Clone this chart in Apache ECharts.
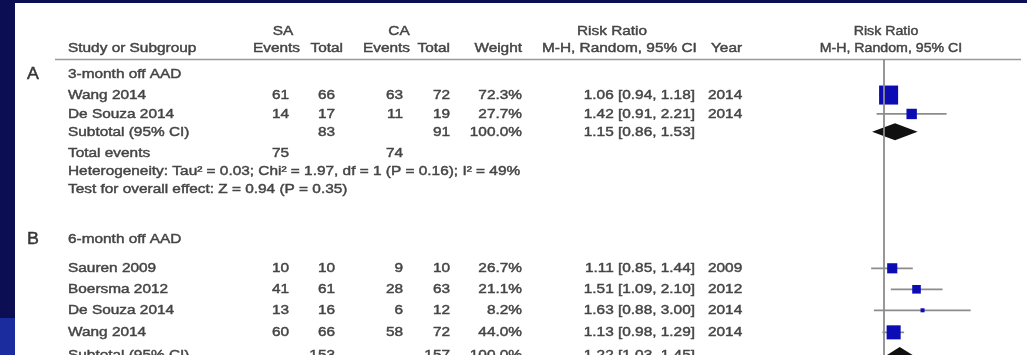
<!DOCTYPE html>
<html>
<head>
<meta charset="utf-8">
<title>Risk Ratio forest plot</title>
<script src="https://cdn.jsdelivr.net/npm/echarts@6/dist/echarts.min.js"></script>
<style>
  html, body { margin: 0; padding: 0; background: #ffffff; }
  #chart { width: 1027px; height: 355px; }
</style>
</head>
<body>
<div id="chart"></div>
<script>
// ---------------- data ----------------
const groupLetters = ['A', 'B'];
const groupTitles = ['3-month off AAD', '6-month off AAD'];

// Subgroup A: 3-month off AAD
const studiesA = ['Wang 2014', 'De Souza 2014'];
const saEventsA = [61, 14];
const saTotalA = [66, 17];
const caEventsA = [63, 11];
const caTotalA = [72, 19];
const weightA = [72.3, 27.7];
const rrA = [1.06, 1.42];
const lowerA = [0.94, 0.91];
const upperA = [1.18, 2.21];
const yearA = [2014, 2014];
const subtotalTotalsA = [83, 91];          // SA total, CA total
const subtotalEffectA = [1.15, 0.86, 1.53]; // RR, lower, upper
const totalEventsA = [75, 74];
const heterogeneityA = 'Heterogeneity: Tau\u00b2 = 0.03; Chi\u00b2 = 1.97, df = 1 (P = 0.16); I\u00b2 = 49%';
const overallA = 'Test for overall effect: Z = 0.94 (P = 0.35)';

// Subgroup B: 6-month off AAD
const studiesB = ['Sauren 2009', 'Boersma 2012', 'De Souza 2014', 'Wang 2014'];
const saEventsB = [10, 41, 13, 60];
const saTotalB = [10, 61, 16, 66];
const caEventsB = [9, 28, 6, 58];
const caTotalB = [10, 63, 12, 72];
const weightB = [26.7, 21.1, 8.2, 44.0];
const rrB = [1.11, 1.51, 1.63, 1.13];
const lowerB = [0.85, 1.09, 0.88, 0.98];
const upperB = [1.44, 2.10, 3.00, 1.29];
const yearB = [2009, 2012, 2014, 2014];
const subtotalTotalsB = [153, 157];
const subtotalEffectB = [1.22, 1.03, 1.45];

// ---------------- layout ----------------
const W = 1027, H = 355;
const ROW_TOP = 31, ROW_PITCH = 21;          // pixel centre of row 0 and line pitch
const Y_MIN = -ROW_TOP / ROW_PITCH;
const Y_MAX = (H - ROW_TOP) / ROW_PITCH;

const ROW = {
  head1: 0, head2: 0.8, rule: 1.36,
  A: { title: 2.05, studies: [3.05, 3.95], subtotal: 4.8, totalEvents: 5.8, het: 6.68, test: 7.55 },
  B: { title: 9.9, studies: [11.3, 12.3, 13.3, 14.35], subtotal: 15.45 }
};

const COL = {
  letter: 27, study: 68,
  saEv: 289, saTot: 335, caEv: 403, caTot: 450, weight: 522, rr: 695, year: 708,
  hSA: 283, hCA: 399, hSaEv: 300, hSaTot: 343, hCaEv: 410, hCaTot: 450,
  hRR: 612, hMH: 542, hYear: 711, hPlotRR: 886, hPlotMH: 891,
  ruleL: 55, ruleR: 1021
};

const FONT = '"Liberation Sans", Arial, Helvetica, sans-serif';
const TEXT_COLOR = '#444444';
const GREY_LINE = '#8c8c8c';
const SQUARE_BLUE = '#0c0cb4';

// ---------------- table text ----------------
const textItems = [];
function addText(x, row, text, align, opt) {
  opt = opt || {};
  textItems.push({
    x: x, row: row, text: String(text), align: align,
    size: opt.size || 13.5, sx: opt.sx || 1.14,
    color: opt.color || TEXT_COLOR
  });
}
const fmtRR = (r, l, u) => r.toFixed(2) + ' [' + l.toFixed(2) + ', ' + u.toFixed(2) + ']';

// headers
addText(COL.hSA, ROW.head1, 'SA', 'center');
addText(COL.hCA, ROW.head1, 'CA', 'center');
addText(COL.hRR, ROW.head1, 'Risk Ratio', 'center');
addText(COL.hPlotRR, ROW.head1, 'Risk Ratio', 'center', { sx: 1.05 });
addText(COL.study, ROW.head2, 'Study or Subgroup', 'left');
addText(COL.hSaEv, ROW.head2, 'Events', 'right');
addText(COL.hSaTot, ROW.head2, 'Total', 'right');
addText(COL.hCaEv, ROW.head2, 'Events', 'right');
addText(COL.hCaTot, ROW.head2, 'Total', 'right');
addText(COL.weight, ROW.head2, 'Weight', 'right');
addText(COL.hMH, ROW.head2, 'M-H, Random, 95% CI', 'left');
addText(COL.hYear, ROW.head2, 'Year', 'left');
addText(COL.hPlotMH, ROW.head2, 'M-H, Random, 95% CI', 'center', { sx: 1.05 });

const groups = [
  { rows: ROW.A, studies: studiesA, saEv: saEventsA, saTot: saTotalA, caEv: caEventsA, caTot: caTotalA,
    weight: weightA, rr: rrA, lo: lowerA, hi: upperA, year: yearA,
    subTot: subtotalTotalsA, subEff: subtotalEffectA, totalEvents: totalEventsA,
    het: heterogeneityA, test: overallA },
  { rows: ROW.B, studies: studiesB, saEv: saEventsB, saTot: saTotalB, caEv: caEventsB, caTot: caTotalB,
    weight: weightB, rr: rrB, lo: lowerB, hi: upperB, year: yearB,
    subTot: subtotalTotalsB, subEff: subtotalEffectB }
];

const marks = [];
groups.forEach((g, gi) => {
  const r = g.rows;
  addText(COL.letter, r.title, groupLetters[gi], 'left', { size: 17, sx: 1.05, color: '#363636' });
  addText(COL.study, r.title, groupTitles[gi], 'left');
  g.studies.forEach((name, i) => {
    const row = r.studies[i];
    addText(COL.study, row, name, 'left');
    addText(COL.saEv, row, g.saEv[i], 'right');
    addText(COL.saTot, row, g.saTot[i], 'right');
    addText(COL.caEv, row, g.caEv[i], 'right');
    addText(COL.caTot, row, g.caTot[i], 'right');
    addText(COL.weight, row, g.weight[i].toFixed(1) + '%', 'right');
    addText(COL.rr, row, fmtRR(g.rr[i], g.lo[i], g.hi[i]), 'right');
    addText(COL.year, row, g.year[i], 'left');
    marks.push({ kind: 'study', row: row, rr: g.rr[i], lo: g.lo[i], hi: g.hi[i], w: g.weight[i] });
  });
  addText(COL.study, r.subtotal, 'Subtotal (95% CI)', 'left');
  addText(COL.saTot, r.subtotal, g.subTot[0], 'right');
  addText(COL.caTot, r.subtotal, g.subTot[1], 'right');
  addText(COL.weight, r.subtotal, '100.0%', 'right');
  addText(COL.rr, r.subtotal, fmtRR(g.subEff[0], g.subEff[1], g.subEff[2]), 'right');
  marks.push({ kind: 'diamond', row: r.subtotal, rr: g.subEff[0], lo: g.subEff[1], hi: g.subEff[2] });
  if (g.totalEvents) {
    addText(COL.study, r.totalEvents, 'Total events', 'left');
    addText(COL.saEv, r.totalEvents, g.totalEvents[0], 'right');
    addText(COL.caEv, r.totalEvents, g.totalEvents[1], 'right');
  }
  if (g.het) addText(COL.study, r.het, g.het, 'left');
  if (g.test) addText(COL.study, r.test, g.test, 'left');
});

// ---------------- chart ----------------
const chart = echarts.init(document.getElementById('chart'), null, { renderer: 'canvas' });

const hiddenY = (gi) => ({
  type: 'value', gridIndex: gi, inverse: true, min: Y_MIN, max: Y_MAX, show: false
});

chart.setOption({
  animation: false,
  backgroundColor: '#ffffff',
  grid: [
    { left: 0, top: 0, width: W, height: H },              // table
    { left: 757, top: 0, width: 254, height: H }           // risk-ratio plot (log scale)
  ],
  xAxis: [
    { type: 'value', gridIndex: 0, min: 0, max: W, show: false },
    { type: 'log', gridIndex: 1, min: 0.2, max: 5, logBase: 10, show: false }
  ],
  yAxis: [hiddenY(0), hiddenY(1)],
  graphic: [
    // dark slide frame
    { type: 'rect', left: 0, top: 0, shape: { width: W, height: 3 }, style: { fill: '#0b0e52' }, z: 100 },
    { type: 'rect', left: 0, top: 0, shape: { width: 15, height: 318 }, style: { fill: '#0b0e52' }, z: 100 },
    { type: 'rect', left: 0, top: 318, shape: { width: 15, height: H - 318 }, style: { fill: '#1a2c9e' }, z: 100 }
  ],
  series: [
    {
      // header rule
      type: 'line', xAxisIndex: 0, yAxisIndex: 0, symbol: 'none', silent: true,
      data: [[COL.ruleL, ROW.rule], [COL.ruleR, ROW.rule]],
      lineStyle: { color: '#9a9a9a', width: 1.6 }
    },
    {
      // line of no effect (RR = 1)
      type: 'line', xAxisIndex: 1, yAxisIndex: 1, symbol: 'none', silent: true,
      data: [[1, ROW.rule], [1, Y_MAX]],
      lineStyle: { color: GREY_LINE, width: 1.8 }
    },
    {
      // study estimates and pooled diamonds
      type: 'custom', xAxisIndex: 1, yAxisIndex: 1, silent: true, clip: false,
      data: marks.map(m => [m.rr, m.row]),
      renderItem: function (params, api) {
        const m = marks[params.dataIndex];
        const c = api.coord([m.rr, m.row]);
        const l = api.coord([m.lo, m.row]);
        const h = api.coord([m.hi, m.row]);
        if (m.kind === 'diamond') {
          return {
            type: 'polygon',
            shape: { points: [[l[0], c[1]], [c[0], c[1] - 8.5], [h[0], c[1]], [c[0], c[1] + 8.5]] },
            style: { fill: '#101010' }
          };
        }
        const s = Math.max(3.5, 2.66 * Math.sqrt(m.w) - 3.6);
        return {
          type: 'group',
          children: [
            { type: 'line', shape: { x1: l[0], y1: c[1], x2: h[0], y2: c[1] },
              style: { stroke: GREY_LINE, lineWidth: 1.7 } },
            { type: 'rect', shape: { x: c[0] - s / 2, y: c[1] - s / 2, width: s, height: s },
              style: { fill: SQUARE_BLUE } }
          ]
        };
      }
    },
    {
      // table text
      type: 'custom', xAxisIndex: 0, yAxisIndex: 0, silent: true, clip: false,
      data: textItems.map(t => [t.x, t.row]),
      renderItem: function (params, api) {
        const t = textItems[params.dataIndex];
        const p = api.coord([t.x, t.row]);
        return {
          type: 'text',
          x: p[0], y: p[1], scaleX: t.sx,
          style: {
            text: t.text,
            fill: t.color,
            stroke: t.color,
            lineWidth: 0.45,
            font: t.size + 'px ' + FONT,
            textAlign: t.align, align: t.align,
            textVerticalAlign: 'middle', verticalAlign: 'middle'
          }
        };
      }
    }
  ]
});
</script>
</body>
</html>
